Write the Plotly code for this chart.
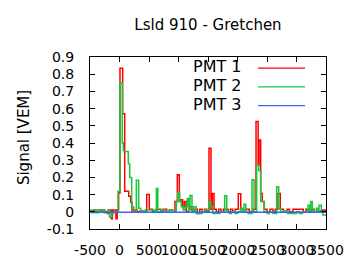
import plotly.graph_objects as go

# PMT 1 (red) step change points: time [ns] and signal [VEM]
pmt1_t = [-500, -470, -440, -400, -360, -320, -290, -250, -210, -180, -140, -120, -60, -40, -15, 8, 54, 88, 156, 190, 212,
          260, 300, 350, 400, 461, 505, 560, 620, 700, 740, 800, 850, 900, 940, 980, 1014, 1040, 1070, 1100, 1130,
          1170, 1200, 1230, 1270, 1320, 1360, 1400, 1440, 1480, 1517, 1551, 1573, 1602, 1640, 1680, 1720, 1760,
          1840, 1880, 1920, 1960, 2013, 2055, 2100, 2140, 2200, 2260, 2314, 2350, 2365, 2393, 2420, 2450, 2500,
          2550, 2600, 2640, 2686, 2725, 2780, 2840, 2880, 2940, 3013, 3115, 3160, 3200, 3260, 3300, 3360, 3400,
          3440, 3500]
pmt1_v = [0.005, 0.0, 0.01, 0.0, 0.01, 0.0, 0.01, 0.0, -0.01, 0.01, -0.04, 0.01, -0.04, 0.01, 0.11, 0.835, 0.57, 0.12, 0.09, 0.055, 0.0,
          0.01, 0.0, 0.005, 0.0, 0.10, 0.015, 0.0, 0.015, 0.0, 0.015, 0.0, 0.01, 0.0, 0.06, 0.216, 0.06, 0.07, 0.03, 0.06, 0.0,
          0.015, 0.03, 0.0, 0.015, -0.01, 0.015, 0.0, 0.015, 0.0, 0.37, 0.015, 0.107, 0.015, 0.0, 0.015, 0.0, 0.015,
          0.0, 0.015, 0.0, 0.015, 0.105, 0.015, 0.0, 0.015, 0.0, 0.015, 0.525, 0.27, 0.417, 0.107, 0.06, 0.015, 0.0,
          0.015, 0.0, 0.015, 0.107, 0.015, 0.0, 0.015, 0.0, 0.015, 0.015, 0.0, 0.015, 0.0, 0.015, 0.0, 0.005, 0.0,
          0.01, 0.0]

# PMT 2 (green)
pmt2_t = [-500, -470, -430, -400, -360, -330, -300, -260, -200, -170, -130, -100, -25, 8, 47, 64, 76, 149, 173, 207, 240,
          285, 325, 360, 432, 600, 625, 650, 700, 780, 840, 900, 963, 990, 1020, 1047, 1080, 1110, 1149, 1173, 1195,
          1229, 1260, 1300, 1400, 1450, 1517, 1551, 1580, 1700, 1783, 1817, 1860, 1900, 1960, 2000, 2048, 2080,
          2110, 2140, 2180, 2246, 2280, 2325, 2360, 2393, 2450, 2500, 2540, 2600, 2664, 2698, 2730, 2780, 2850,
          3000, 3050, 3100, 3195, 3225, 3241, 3268, 3300, 3336, 3364, 3381, 3420, 3449, 3500]
pmt2_v = [0.01, -0.005, 0.01, -0.005, 0.01, 0.0, 0.01, -0.005, 0.01, -0.03, -0.01, 0.0, 0.12, 0.75, 0.40, 0.36, 0.35, 0.28, 0.20, 0.03, 0.0,
          0.183, 0.02, 0.0, 0.01, 0.0, 0.135, 0.0, 0.01, 0.0, 0.01, 0.0, 0.06, 0.113, 0.06, 0.03, 0.01, 0.03, 0.078, 0.01, 0.095,
          0.0, 0.03, -0.01, 0.0, 0.01, 0.06, 0.03, -0.01, 0.0, 0.094, 0.0, -0.01, 0.0, -0.01, 0.0, 0.02, 0.0,
          0.044, 0.0, -0.01, 0.187, 0.0, 0.27, 0.24, 0.06, 0.0, -0.01, 0.0, -0.01, 0.145, 0.02, 0.0, 0.005, -0.01,
          0.0, -0.01, 0.0, 0.038, 0.0, 0.06, 0.01, 0.0, 0.02, 0.0, 0.038, 0.0, -0.018, -0.018]

# PMT 3 (blue)
pmt3_t = [-500, 0, 500, 1000, 1500, 2000, 2500, 3000, 3500]
pmt3_v = [-0.003, -0.003, -0.003, -0.003, -0.003, -0.003, -0.003, -0.003, -0.003]

series_names = ["PMT 1", "PMT 2", "PMT 3"]
series_colors = ["#ff0000", "#19c83a", "#3366ff"]

x_ticks = [-500, 0, 500, 1000, 1500, 2000, 2500, 3000, 3500]
x_labels = ["-500", "0", "500", "1000", "1500", "2000", "2500", "3000", "3500"]
y_ticks = [-0.1, 0, 0.1, 0.2, 0.3, 0.4, 0.5, 0.6, 0.7, 0.8, 0.9]
y_labels = ["-0.1", "0", "0.1", "0.2", "0.3", "0.4", "0.5", "0.6", "0.7", "0.8", "0.9"]

FONT = "DejaVu Sans"
fig = go.Figure()
for t, v, name, col in zip([pmt1_t, pmt2_t, pmt3_t], [pmt1_v, pmt2_v, pmt3_v], series_names, series_colors):
    fig.add_trace(go.Scatter(x=t, y=v, mode="lines", line=dict(shape="hv", color=col, width=1.5),
                             name=name, showlegend=False))

# gnuplot-style key (text right, sample line left-to-right after it)
key_y = [0.9425, 0.833, 0.724]
for name, col, ky in zip(series_names, series_colors, key_y):
    fig.add_annotation(x=0.6525, y=ky, xref="paper", yref="paper", text=name, showarrow=False,
                       xanchor="right", yanchor="middle", font=dict(family=FONT, size=16, color="black"))
    fig.add_shape(type="line", xref="paper", yref="paper", x0=0.712, x1=0.911, y0=ky - 0.007, y1=ky - 0.007,
                  line=dict(color=col, width=1.2))

fig.add_annotation(x=-0.326, y=0.529, xref="paper", yref="paper", text="Signal [VEM]", showarrow=False,
                   textangle=-90, font=dict(family=FONT, size=15, color="black"))

fig.update_layout(
    width=360, height=270,
    margin=dict(l=90, r=34, t=57, b=39),
    paper_bgcolor="white", plot_bgcolor="white",
    title=dict(text="Lsld 910 - Gretchen", x=0.5, xref="paper", y=1 - 25 / 270, yref="container",
               yanchor="middle", xanchor="center", font=dict(family=FONT, size=15, color="black")),
    font=dict(family=FONT, size=14, color="black"),
)
fig.update_xaxes(range=[-500, 3500], tickvals=x_ticks, ticktext=x_labels, tickangle=0,
                 ticks="inside", ticklen=5, tickcolor="black", showline=True, linecolor="black", linewidth=1,
                 mirror="ticks", showgrid=False, zeroline=False, ticklabelstandoff=8,
                 tickfont=dict(family=FONT, size=14, color="black"))
fig.update_yaxes(range=[-0.1, 0.9], tickvals=y_ticks, ticktext=y_labels,
                 ticks="inside", ticklen=5, tickcolor="black", showline=True, linecolor="black", linewidth=1,
                 mirror="ticks", showgrid=False, zeroline=False, ticklabelstandoff=12,
                 tickfont=dict(family=FONT, size=14, color="black"))

fig.write_html("out.html")
